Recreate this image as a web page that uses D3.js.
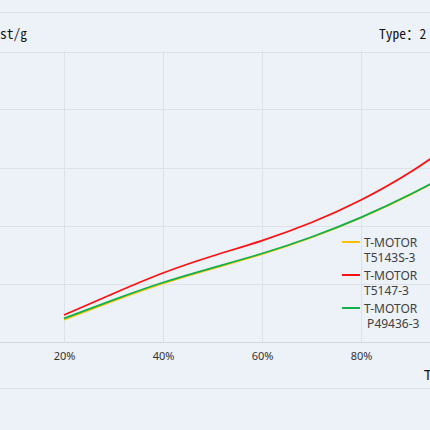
<!DOCTYPE html>
<html>
<head>
<meta charset="utf-8">
<script src="https://cdn.jsdelivr.net/npm/d3@7"></script>
<style>
  html, body { margin: 0; padding: 0; background: #edf1f8; overflow: hidden; }
</style>
</head>
<body>
<div id="chart"></div>
<script>
// values (thrust in g per throttle %)
var throttle = [20, 30, 40, 50, 60, 70, 80, 90, 100];
var t5143s = [376, 698, 1000, 1257, 1505, 1793, 2134, 2533, 2983];
var t5147  = [457, 828, 1181, 1474, 1741, 2052, 2440, 2922, 3509];
var p49436 = [400, 719, 1017, 1271, 1517, 1802, 2141, 2538, 2986];

var seriesNames = [["T-MOTOR", "T5143S-3"], ["T-MOTOR", "T5147-3"], ["T-MOTOR", " P49436-3"]];
var seriesColors = ["#ffc000", "#ff1010", "#10b04a"];
var xTicks = [0, 20, 40, 60, 80, 100];
var yTicks = [0, 1000, 2000, 3000, 4000, 5000];

var width = 430, height = 430;

var svg = d3.select("#chart")
  .append("svg")
  .attr("width", width)
  .attr("height", height)
  .style("display", "block");

svg.append("rect")
  .attr("width", width)
  .attr("height", height)
  .attr("fill", "#edf1f8");

// the chart is wider than the window, only part of it shows
var xScale = d3.scaleLinear()
  .domain([0, 100])
  .range([-35, 460]);

var yScale = d3.scaleLinear()
  .domain([0, 5000])
  .range([341.5, 51.5]);

// band lines of the header and footer
svg.append("line")
  .attr("x1", 0).attr("x2", width)
  .attr("y1", 12.5).attr("y2", 12.5)
  .attr("stroke", "#dce1e9");
svg.append("line")
  .attr("x1", 0).attr("x2", width)
  .attr("y1", 388.5).attr("y2", 388.5)
  .attr("stroke", "#dce1e9");

// grid
svg.append("g")
  .selectAll("line")
  .data(yTicks)
  .enter()
  .append("line")
  .attr("x1", 0).attr("x2", width)
  .attr("y1", function(d) { return Math.round(yScale(d)) + 0.5; })
  .attr("y2", function(d) { return Math.round(yScale(d)) + 0.5; })
  .attr("stroke", function(d) { return d === 0 ? "#d2d7df" : "#dde1e8"; });

svg.append("g")
  .selectAll("line")
  .data(xTicks)
  .enter()
  .append("line")
  .attr("x1", function(d) { return Math.round(xScale(d)) + 0.5; })
  .attr("x2", function(d) { return Math.round(xScale(d)) + 0.5; })
  .attr("y1", yScale(5000))
  .attr("y2", yScale(0))
  .attr("stroke", "#dde1e8");

// x axis labels
var x_axis = d3.axisBottom()
  .scale(xScale)
  .tickValues(xTicks)
  .tickSize(0)
  .tickPadding(11)
  .tickFormat(function(d) { return d + "%"; });

var xg = svg.append("g")
  .attr("transform", "translate(0," + yScale(0) + ")")
  .call(x_axis);
xg.select(".domain").remove();
xg.selectAll("text")
  .attr("fill", "#333")
  .style("font-family", "'Noto Sans', 'Open Sans', sans-serif")
  .style("font-size", "11px");

// y axis labels (off the left edge)
var y_axis = d3.axisLeft()
  .scale(yScale)
  .tickValues(yTicks)
  .tickSize(0)
  .tickPadding(8);
var yg = svg.append("g")
  .attr("transform", "translate(" + xScale(0) + ",0)")
  .call(y_axis);
yg.select(".domain").remove();

// titles
svg.append("text")
  .attr("x", 27)
  .attr("y", 39)
  .attr("text-anchor", "end")
  .attr("fill", "#111")
  .style("font-family", "'Noto Sans Mono CJK SC', 'DejaVu Sans Mono', monospace")
  .style("font-size", "13.5px")
  .text("Thrust/g");

svg.append("text")
  .attr("x", 379)
  .attr("y", 39)
  .attr("fill", "#111")
  .attr("xml:space", "preserve")
  .style("white-space", "pre")
  .style("font-family", "'Noto Sans Mono CJK SC', 'DejaVu Sans Mono', monospace")
  .style("font-size", "13.5px")
  .text("Type：2");

svg.append("text")
  .attr("x", 424)
  .attr("y", 380)
  .attr("fill", "#111")
  .style("font-family", "'Noto Sans', sans-serif")
  .style("font-size", "14px")
  .text("Throttle");

// curves
var allSeries = [t5143s, t5147, p49436];

var line = d3.line()
  .x(function(d, i) { return xScale(throttle[i]); })
  .y(function(d) { return yScale(d); })
  .curve(d3.curveNatural);

svg.append("g")
  .selectAll("path")
  .data(allSeries)
  .enter()
  .append("path")
  .attr("d", line)
  .attr("fill", "none")
  .attr("stroke", function(d, i) { return seriesColors[i]; })
  .attr("stroke-width", 1.8);

// legend
var legend = svg.append("g")
  .selectAll("g")
  .data(seriesNames)
  .enter()
  .append("g")
  .attr("transform", function(d, i) { return "translate(342," + (242 + i * 33) + ")"; });

legend.append("line")
  .attr("x1", 0).attr("x2", 18)
  .attr("y1", 0).attr("y2", 0)
  .attr("stroke", function(d, i) { return seriesColors[i]; })
  .attr("stroke-width", 2);

legend.selectAll("text")
  .data(function(d) { return d; })
  .enter()
  .append("text")
  .attr("x", 22)
  .attr("y", function(d, j) { return 5 + j * 15; })
  .attr("fill", "#404040")
  .attr("xml:space", "preserve")
  .style("white-space", "pre")
  .style("font-family", "'Noto Sans', sans-serif")
  .style("font-size", "12px")
  .text(function(d) { return d; });
</script>
</body>
</html>
